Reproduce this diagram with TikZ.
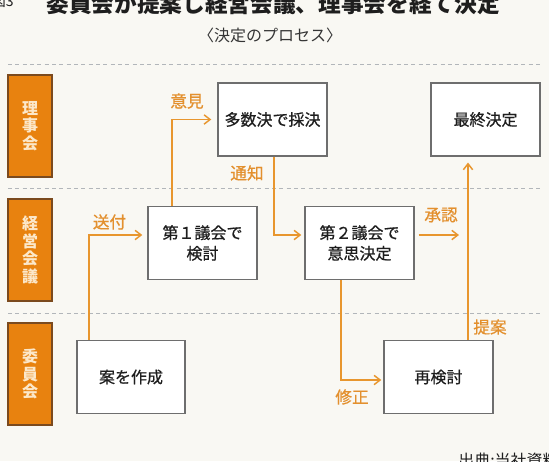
\documentclass[tikz,border=0pt]{standalone}
\usepackage{fontspec}
\setmainfont{Noto Sans CJK JP}
\newfontfamily\jpmed{Noto Sans CJK JP}[FakeBold=0.7]
\usetikzlibrary{arrows.meta}
\definecolor{bg}{HTML}{F9F8F3}
\definecolor{laneorange}{HTML}{E8820F}
\definecolor{lanedark}{HTML}{7B4A1E}
\definecolor{lanetext}{HTML}{FCE8CA}
\definecolor{connorange}{HTML}{E8962E}
\definecolor{labelorange}{HTML}{E3902E}
\definecolor{boxline}{HTML}{6E6E6E}
\definecolor{dashgray}{HTML}{B2B6BA}
\definecolor{ink}{HTML}{1E1E1E}
\tikzset{
  box/.style={draw=boxline, fill=white, line width=1.1pt, inner sep=0pt,
    minimum width=81.75pt, minimum height=54.5pt, align=center, text=ink,
    font=\jpmed\fontsize{12}{15.5}\selectfont},
  lane/.style={fill=laneorange, draw=lanedark, line width=0.8pt, inner sep=0pt,
    minimum width=33pt, minimum height=76.5pt, align=center, text=lanetext,
    font=\bfseries\fontsize{12}{13.2}\selectfont},
  conn/.style={draw=connorange, line width=1.1pt,
    -{Straight Barb[length=4.5pt,width=7pt]}},
  clabel/.style={text=labelorange, inner sep=0pt, font=\jpmed\fontsize{12.5}{14}\selectfont},
  dashline/.style={draw=dashgray, line width=0.7pt, dash pattern=on 3pt off 2.5pt},
}
\begin{document}
\begin{tikzpicture}[x=0.75pt,y=-0.75pt]
\clip (0,0) rectangle (549,461);
\fill[bg] (0,0) rectangle (549,461);

% title and subtitle
\node[text=ink, inner sep=0pt, font=\bfseries\fontsize{17}{20}\selectfont] (title) at (273,4) {委員会が提案し経営会議、理事会を経て決定};
\node[text=ink, inner sep=0pt, anchor=south east, font=\fontsize{10.5}{12}\selectfont] (fig) at (14,8) {図3};
\node[text=ink!90, inner sep=0pt, font=\fontsize{12}{14}\selectfont] (subtitle) at (270,35) {〈決定のプロセス〉};

% lane separators
\draw[dashline] (8,64) -- (540,64);
\draw[dashline] (8,188) -- (540,188);
\draw[dashline] (8,313) -- (540,313);

% lane labels
\node[lane] (l1) at (30,126) {理\\事\\会};
\node[lane] (l2) at (30,250) {経\\営\\会\\議};
\node[lane] (l3) at (30,374) {委\\員\\会};

% boxes
\node[box] (tasu) at (272.5,119.5) {多数決で採決};
\node[box] (saishu) at (485.5,119.5) {最終決定};
\node[box] (k1) at (202.5,243) {第１議会で\\検討};
\node[box] (k2) at (359.5,243) {第２議会で\\意思決定};
\node[box, minimum width=81pt] (an) at (131,377) {案を作成};
\node[box] (sai) at (438.5,377) {再検討};

% connectors
\coordinate (shoninEnd) at (459,235);
\draw[conn] ([shift={(-42,0)}]an.north) |- ([shift={(-5,-8)}]k1.west);
\draw[conn] ([shift={(-30.5,0)}]k1.north) |- ([shift={(-6,0)}]tasu.west);
\draw[conn] ([shift={(1.5,0)}]tasu.south) |- ([shift={(-3,-8)}]k2.west);
\draw[conn] ([shift={(4,-8)}]k2.east) -- (shoninEnd);
\draw[conn] ([shift={(29.5,0)}]sai.north) -- ([shift={(-17.5,6)}]saishu.south);
\draw[conn] ([shift={(-18.5,0)}]k2.south) |- ([shift={(-2,3)}]sai.west);

% connector labels
\node[clabel] (lsofu) at (109.5,222) {送付};
\node[clabel] (liken) at (187,101) {意見};
\node[clabel] (ltsuchi) at (247,173) {通知};
\node[clabel] (lshonin) at (441,215) {承認};
\node[clabel] (lteian) at (490,327) {提案};
\node[clabel] (lshusei) at (352,397) {修正};

% source
\node[text=ink, inner sep=0pt, anchor=west, font=\fontsize{12}{14}\selectfont] (src) at (458,460) {出典:当社資料};
\end{tikzpicture}
\end{document}
